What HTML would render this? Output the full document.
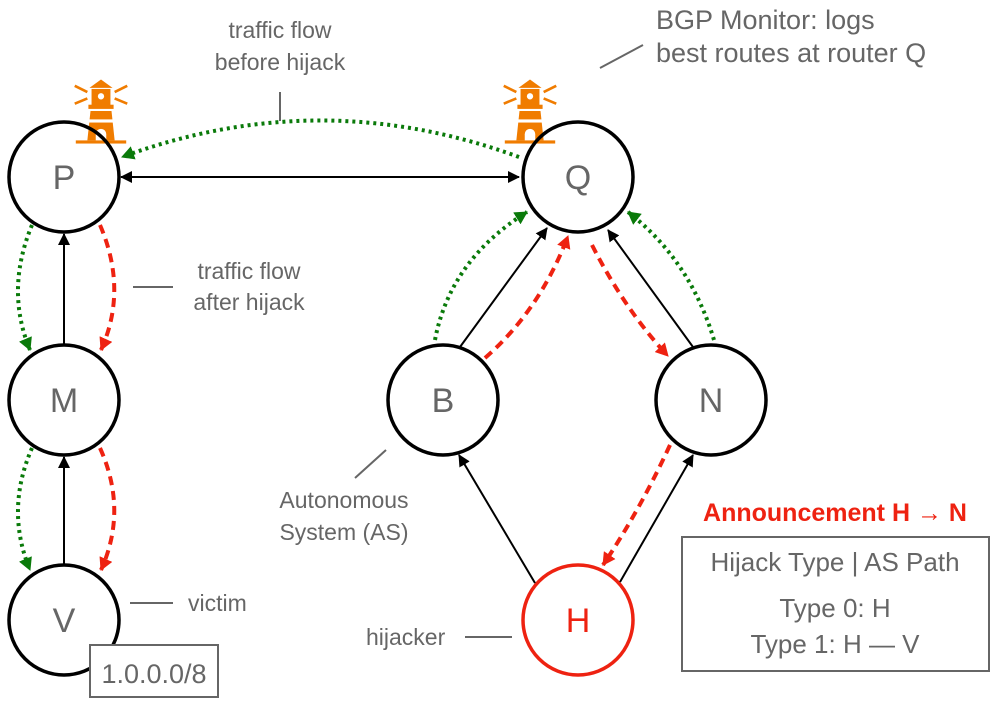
<!DOCTYPE html>
<html><head><style>body{margin:0;background:#fff}svg{display:block}text{font-family:"Liberation Sans",sans-serif;fill:#666}</style></head><body>
<svg width="997" height="708" viewBox="0 0 997 708" xmlns="http://www.w3.org/2000/svg">
<defs>
<marker id="ak" markerWidth="12" markerHeight="12" refX="11" refY="6" orient="auto-start-reverse" markerUnits="userSpaceOnUse"><path d="M0,0 L12,6 L0,12 z" fill="#000"/></marker>
<marker id="ag" markerWidth="14" markerHeight="14" refX="12" refY="7" orient="auto" markerUnits="userSpaceOnUse"><path d="M0,0 L13,7 L0,14 z" fill="#0a7a0a"/></marker>
<marker id="ar" markerWidth="14" markerHeight="14" refX="12" refY="7" orient="auto" markerUnits="userSpaceOnUse"><path d="M0,0 L13,7 L0,14 z" fill="#ee2211"/></marker>
<g id="lh" fill="#f07c00">
<polygon points="-11,-22 0,-30 11,-22"/>
<rect x="-9" y="-21" width="18" height="16"/>
<rect x="-12" y="-6" width="24" height="4"/>
<polygon points="-10,0 10,0 13,28 -13,28"/>
<rect x="-24" y="28" width="48" height="3"/>
<g stroke="#f07c00" stroke-width="2.5"><line x1="-13" y1="-18" x2="-25" y2="-24"/><line x1="-13" y1="-12" x2="-25" y2="-7"/><line x1="13" y1="-18" x2="25" y2="-24"/><line x1="13" y1="-12" x2="25" y2="-7"/></g>
<circle cx="0" cy="-14" r="3" fill="#fff"/>
<rect x="-12" y="8" width="24" height="3" fill="#fff"/>
<path d="M-5,28 v-6 a5,5 0 0 1 10,0 v6 z" fill="#fff"/>
</g>
</defs>
<g transform="translate(101,111) scale(1.05)"><use href="#lh"/></g>
<g transform="translate(530,111) scale(1.05)"><use href="#lh"/></g>
<g fill="none" stroke="#000" stroke-width="3.5">
<circle cx="64" cy="177" r="55"/><circle cx="578" cy="177" r="55"/>
<circle cx="64" cy="400" r="55"/><circle cx="64" cy="620" r="55"/>
<circle cx="443" cy="400" r="55"/><circle cx="711" cy="400" r="55"/>
<circle cx="578" cy="620" r="55" stroke="#ee2211"/>
</g>
<rect x="90" y="645" width="128" height="52" fill="#fff" stroke="#666" stroke-width="2"/>
<text x="154" y="683" font-size="27" text-anchor="middle">1.0.0.0/8</text>
<g stroke="#000" stroke-width="2" fill="none">
<line x1="121" y1="177" x2="519" y2="177" marker-end="url(#ak)" marker-start="url(#ak)"/>
<line x1="64" y1="344" x2="64" y2="234" marker-end="url(#ak)"/>
<line x1="64" y1="564" x2="64" y2="457" marker-end="url(#ak)"/>
<line x1="460" y1="347" x2="547" y2="228" marker-end="url(#ak)"/>
<line x1="693" y1="347" x2="608" y2="230" marker-end="url(#ak)"/>
<line x1="535" y1="583" x2="459" y2="455" marker-end="url(#ak)"/>
<line x1="620" y1="582" x2="693" y2="455" marker-end="url(#ak)"/>
</g>
<g fill="none" stroke="#0a7a0a" stroke-width="4" stroke-dasharray="3,4">
<path d="M519,157 Q320,84 122,157" marker-end="url(#ag)"/>
<path d="M32,225 Q5,290 30,350" marker-end="url(#ag)"/>
<path d="M32,448 Q5,510 30,570" marker-end="url(#ag)"/>
<path d="M435,340 Q450,260 527,212" marker-end="url(#ag)"/>
<path d="M714,340 Q690,260 628,212" marker-end="url(#ag)"/>
</g>
<g fill="none" stroke="#ee2211" stroke-width="4" stroke-dasharray="9,6">
<path d="M100,225 Q128,290 101,350" marker-end="url(#ar)"/>
<path d="M100,448 Q128,510 101,570" marker-end="url(#ar)"/>
<path d="M485,358 Q540,310 568,236" marker-end="url(#ar)"/>
<path d="M592,245 Q625,310 668,356" marker-end="url(#ar)"/>
<path d="M670,445 Q640,510 603,565" marker-end="url(#ar)"/>
</g>
<g font-size="34" text-anchor="middle">
<text x="64" y="189">P</text><text x="578" y="189">Q</text>
<text x="64" y="412">M</text><text x="64" y="632">V</text>
<text x="443" y="412">B</text><text x="711" y="412">N</text>
<text x="578" y="632" style="fill:#ee2211">H</text>
</g>
<g stroke="#666" stroke-width="2">
<line x1="280" y1="92" x2="280" y2="121"/>
<line x1="600" y1="68" x2="643" y2="45"/>
<line x1="133" y1="287" x2="173" y2="287"/>
<line x1="130" y1="603" x2="173" y2="603"/>
<line x1="355" y1="478" x2="386" y2="450"/>
<line x1="465" y1="637" x2="512" y2="637"/>
</g>
<g font-size="23">
<text x="280" y="38" text-anchor="middle">traffic flow</text>
<text x="280" y="70" text-anchor="middle">before hijack</text>
<text x="249" y="279" text-anchor="middle">traffic flow</text>
<text x="249" y="310" text-anchor="middle">after hijack</text>
<text x="188" y="611">victim</text>
<text x="344" y="508" text-anchor="middle">Autonomous</text>
<text x="344" y="540" text-anchor="middle">System (AS)</text>
<text x="366" y="645">hijacker</text>
</g>
<g font-size="27">
<text x="656" y="29">BGP Monitor: logs</text>
<text x="656" y="62">best routes at router Q</text>
</g>
<text x="835" y="521" font-size="25" font-weight="bold" text-anchor="middle" style="fill:#ee2211">Announcement H → N</text>
<rect x="682" y="537" width="307" height="134" fill="none" stroke="#666" stroke-width="2"/>
<g font-size="26" text-anchor="middle">
<text x="835" y="571">Hijack Type | AS Path</text>
<text x="835" y="617">Type 0: H</text>
<text x="835" y="653">Type 1: H — V</text>
</g>
</svg>
</body></html>
